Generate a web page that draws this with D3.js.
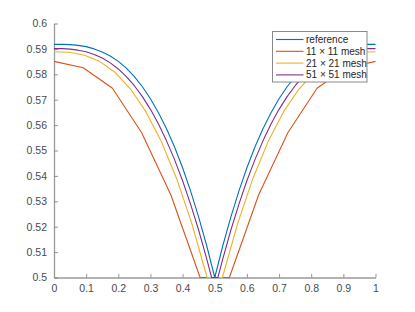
<!DOCTYPE html>
<html lang="en">
<head>
<meta charset="UTF-8">
<title>Mesh convergence</title>
<script src="https://cdnjs.cloudflare.com/ajax/libs/d3/7.8.5/d3.min.js"></script>
<style>
    body { margin: 0; background: #fff; }
    svg { display: block; }
    text { font-family: "Liberation Sans", Arial, Helvetica, sans-serif; }
</style>
</head>
<body>
<svg id="chart" width="415" height="312"></svg>
<script>
    // values
    const refX = [0, 0.025, 0.05, 0.075, 0.1, 0.125, 0.15, 0.175, 0.2, 0.225, 0.25, 0.275, 0.3, 0.325, 0.35, 0.375, 0.4, 0.425, 0.45, 0.475, 0.5,
                  0.525, 0.55, 0.575, 0.6, 0.625, 0.65, 0.675, 0.7, 0.725, 0.75, 0.775, 0.8, 0.825, 0.85, 0.875, 0.9, 0.925, 0.95, 0.975, 1];
    const refY = [0.5918, 0.5918, 0.5917, 0.5914, 0.5909, 0.5900, 0.5888, 0.5872, 0.5851, 0.5824, 0.5791, 0.5751, 0.5704, 0.5649, 0.5586, 0.5514, 0.5432, 0.5340, 0.5238, 0.5125, 0.5000,
                  0.5125, 0.5238, 0.5340, 0.5432, 0.5514, 0.5586, 0.5649, 0.5704, 0.5751, 0.5791, 0.5824, 0.5851, 0.5872, 0.5888, 0.5900, 0.5909, 0.5914, 0.5917, 0.5918, 0.5918];

    const m11X = [0, 0.0909, 0.1818, 0.2727, 0.3636, 0.4545, 0.5455, 0.6364, 0.7273, 0.8182, 0.9091, 1];
    const m11Y = [0.5851, 0.5826, 0.5745, 0.5570, 0.5325, 0.5000, 0.5000, 0.5325, 0.5570, 0.5745, 0.5826, 0.5851];

    const m21X = [0, 0.0476, 0.0952, 0.1429, 0.1905, 0.2381, 0.2857, 0.3333, 0.3810, 0.4286, 0.4762,
                  0.5238, 0.5714, 0.6190, 0.6667, 0.7143, 0.7619, 0.8095, 0.8571, 0.9048, 0.9524, 1];
    const m21Y = [0.5889, 0.5887, 0.5875, 0.5850, 0.5807, 0.5742, 0.5653, 0.5537, 0.5391, 0.5213, 0.5000,
                  0.5000, 0.5213, 0.5391, 0.5537, 0.5653, 0.5742, 0.5807, 0.5850, 0.5875, 0.5887, 0.5889];

    const m51X = [0, 0.025, 0.05, 0.075, 0.1, 0.125, 0.15, 0.175, 0.2, 0.225, 0.25, 0.275, 0.3, 0.325, 0.35, 0.375, 0.4, 0.425, 0.45, 0.475, 0.4902,
                  0.5098, 0.525, 0.55, 0.575, 0.6, 0.625, 0.65, 0.675, 0.7, 0.725, 0.75, 0.775, 0.8, 0.825, 0.85, 0.875, 0.9, 0.925, 0.95, 0.975, 1];
    const m51Y = [0.5901, 0.5901, 0.5899, 0.5895, 0.5889, 0.5878, 0.5864, 0.5845, 0.5821, 0.5791, 0.5755, 0.5712, 0.5662, 0.5604, 0.5538, 0.5464, 0.5381, 0.5288, 0.5186, 0.5073, 0.5000,
                  0.5000, 0.5073, 0.5186, 0.5288, 0.5381, 0.5464, 0.5538, 0.5604, 0.5662, 0.5712, 0.5755, 0.5791, 0.5821, 0.5845, 0.5864, 0.5878, 0.5889, 0.5895, 0.5899, 0.5901, 0.5901];

    const seriesNames = ["reference", "11 \u00d7 11 mesh", "21 \u00d7 21 mesh", "51 \u00d7 51 mesh"];
    const seriesColors = ["#0072BD", "#D95319", "#EDB120", "#7E2F8E"];

    const xTicks = [0, 0.1, 0.2, 0.3, 0.4, 0.5, 0.6, 0.7, 0.8, 0.9, 1];
    const xTickLabels = ["0", "0.1", "0.2", "0.3", "0.4", "0.5", "0.6", "0.7", "0.8", "0.9", "1"];
    const yTicks = [0.5, 0.51, 0.52, 0.53, 0.54, 0.55, 0.56, 0.57, 0.58, 0.59, 0.6];
    const yTickLabels = ["0.5", "0.51", "0.52", "0.53", "0.54", "0.55", "0.56", "0.57", "0.58", "0.59", "0.6"];

    const series = [
        { x: refX, y: refY },
        { x: m11X, y: m11Y },
        { x: m21X, y: m21Y },
        { x: m51X, y: m51Y }
    ];

    const svg = d3.select("#chart");
    const margin = { left: 54, right: 39.5, top: 23.5, bottom: 34.5 };
    const width = 415 - margin.left - margin.right;
    const height = 312 - margin.top - margin.bottom;

    const x = d3.scaleLinear().domain([0, 1]).range([0, width]);
    const y = d3.scaleLinear().domain([0.5, 0.6]).range([height, 0]);

    const g = svg.append("g").attr("transform", `translate(${margin.left},${margin.top})`);

    g.append("clipPath").attr("id", "plotClip")
        .append("rect").attr("x", -1).attr("y", -1).attr("width", width + 2).attr("height", height + 1.6);

    const xAxis = d3.axisBottom(x).tickValues(xTicks)
        .tickFormat((d, i) => xTickLabels[i]).tickSizeInner(-3.5).tickSizeOuter(0).tickPadding(7);
    const yAxis = d3.axisLeft(y).tickValues(yTicks)
        .tickFormat((d, i) => yTickLabels[i]).tickSizeInner(-4).tickSizeOuter(0).tickPadding(7);

    const gx = g.append("g").attr("transform", `translate(0,${height})`).call(xAxis);
    const gy = g.append("g").call(yAxis);

    [gx, gy].forEach(a => {
        a.select(".domain").attr("stroke", "#9a9a9a").attr("stroke-width", 1.3);
        a.selectAll(".tick line").attr("stroke", "#7a7a7a").attr("stroke-width", 0.8);
        a.selectAll(".tick text").attr("fill", "#4a4a4a").attr("font-size", "10.5px");
    });
    gx.selectAll(".tick text").attr("dy", "0.75em");

    const line = d3.line().x(d => x(d[0])).y(d => y(d[1]));

    g.append("g").attr("clip-path", "url(#plotClip)")
        .selectAll("path")
        .data(series)
        .join("path")
        .attr("d", s => line(s.x.map((v, i) => [v, s.y[i]])))
        .attr("fill", "none")
        .attr("stroke", (s, i) => seriesColors[i])
        .attr("stroke-width", 1.1)
        .attr("stroke-linejoin", "round");

    // legend
    const lg = svg.append("g").attr("transform", "translate(272.5,31.5)");
    lg.append("rect")
        .attr("width", 94.5).attr("height", 50.5)
        .attr("fill", "#fff").attr("stroke", "#8a8a8a").attr("stroke-width", 1);

    const items = lg.selectAll("g.item").data(seriesNames).join("g")
        .attr("class", "item")
        .attr("transform", (d, i) => `translate(0,${8 + i * 11.8})`);
    items.append("line")
        .attr("x1", 3.5).attr("x2", 31).attr("y1", 0).attr("y2", 0)
        .attr("stroke", (d, i) => seriesColors[i]).attr("stroke-width", 1.1);
    items.append("text")
        .attr("x", 33.5).attr("y", 0).attr("dy", "0.35em")
        .attr("font-size", "10px").attr("fill", "#262626")
        .text(d => d);
</script>
</body>
</html>
